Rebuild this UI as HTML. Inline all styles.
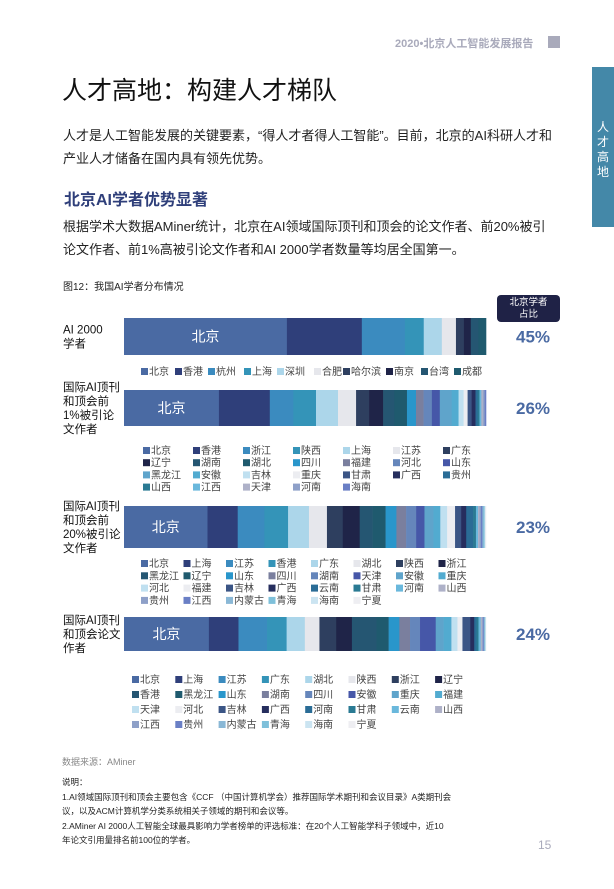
<!DOCTYPE html>
<html><head><meta charset="utf-8">
<style>
body{margin:0;width:614px;height:889px;position:relative;background:#fff;font-family:"Liberation Sans","Noto Sans CJK SC",sans-serif;overflow:hidden;color:#222}
.a{position:absolute;white-space:nowrap}
</style></head><body>
<div class="a" style="left:395px;top:35px;font-size:11px;font-weight:bold;color:#a9aabb">2020•北京人工智能发展报告</div>
<div class="a" style="left:548px;top:36px;width:12px;height:12px;background:#a9aabb"></div>
<div class="a" style="left:592px;top:67px;width:22px;height:160px;background:#4488a8"></div>
<div class="a" style="left:597px;top:120px;width:14px;font-size:12px;color:#fff;white-space:normal;line-height:15px">人才高地</div>
<div class="a" style="left:62px;top:71px;font-size:25px;color:#111">人才高地：构建人才梯队</div>
<div class="a" style="left:63px;top:124px;font-size:13px;line-height:23px;white-space:normal;width:495px">人才是人工智能发展的关键要素，“得人才者得人工智能”。目前，北京的AI科研人才和产业人才储备在国内具有领先优势。</div>
<div class="a" style="left:64px;top:186px;font-size:16px;font-weight:bold;color:#2f3f7a">北京AI学者优势显著</div>
<div class="a" style="left:63px;top:215px;font-size:13px;line-height:23px;white-space:normal;width:495px">根据学术大数据AMiner统计，北京在AI领域国际顶刊和顶会的论文作者、前20%被引论文作者、前1%高被引论文作者和AI 2000学者数量等均居全国第一。</div>
<div class="a" style="left:63px;top:278px;font-size:10px">图12：我国AI学者分布情况</div>
<div class="a" style="left:497px;top:295px;width:63px;height:27px;background:#1f2246;border-radius:4px;color:#fff;font-size:9.5px;line-height:12px;text-align:center;padding-top:2px;box-sizing:border-box">北京学者<br>占比</div>
<svg class="a" style="left:0;top:0" width="614" height="889" id="chart"></svg>
<div class="a" style="left:62px;top:755px;font-size:9px;color:#888">数据来源：AMiner</div>
<div class="a" style="left:62px;top:775px;font-size:8.5px;line-height:14.5px;white-space:normal;width:390px;color:#222">说明：<br>1.AI领域国际顶刊和顶会主要包含《CCF （中国计算机学会）推荐国际学术期刊和会议目录》A类期刊会议，以及ACM计算机学分类系统相关子领域的期刊和会议等。<br>2.AMiner AI 2000人工智能全球最具影响力学者榜单的评选标准：在20个人工智能学科子领域中，近10年论文引用量排名前100位的学者。</div>
<div class="a" style="left:538px;top:838px;font-size:12px;color:#a9aabb">15</div>
<script>
const palette=["#4a6aa3","#2f3f7a","#3b8bbf","#3494b8","#acd6ea","#e6e7ec","#2e3f5f","#1f2448","#255672","#1f5a6e","#2996cb","#7a7f9e","#6586bb","#4657a8","#5fa4cb","#52abd0","#c0e0f0","#ecedf1","#3b5585","#262e5e","#2a6c96","#2a7a93","#6ab8dc","#aeb1c8","#8ea0c8","#6a7fc5","#8ab8d6","#7ec0da","#cbe4f1","#eeeef2"];
const rowLabels=[["AI 2000","学者"],["国际AI顶刊","和顶会前","1%被引论","文作者"],["国际AI顶刊","和顶会前","20%被引论","文作者"],["国际AI顶刊","和顶会论文","作者"]];
const shareLabels=["45%","26%","23%","24%"];
const cats1=["北京","香港","杭州","上海","深圳","合肥","哈尔滨","南京","台湾","成都"];
const vals1=[45,20.7,11.9,5.2,5,3.9,2.2,1.9,2.1,2.1];
const cats2=["北京","香港","浙江","陕西","上海","江苏","广东","辽宁","湖南","湖北","四川","福建","河北","山东","黑龙江","安徽","吉林","重庆","甘肃","广西","贵州","山西","江西","天津","河南","海南"];
const vals2=[26.3,14.1,6.5,6.3,6.1,5,3.6,3.9,3.1,3.5,2.5,2.1,2.3,2.2,3.3,1.9,1.4,1.1,1.1,1.1,0.6,0.5,0.5,0.5,0.4,0.4];
const cats3=["北京","上海","江苏","香港","广东","湖北","陕西","浙江","黑龙江","辽宁","山东","四川","湖南","天津","安徽","重庆","河北","福建","吉林","广西","云南","甘肃","河南","山西","贵州","江西","内蒙古","青海","海南","宁夏"];
const vals3=[23.2,8.4,7.4,6.6,5.8,5,4.4,4.7,3.6,3.6,3,2.7,2.8,2.3,2.5,1.9,1.9,2.2,1.7,1.4,1.9,0.8,0.6,0.4,0.4,0.4,0.3,0.3,0.2,0.2];
const cats4=["北京","上海","江苏","广东","湖北","陕西","浙江","辽宁","香港","黑龙江","山东","湖南","四川","安徽","重庆","福建","天津","河北","吉林","广西","河南","甘肃","云南","山西","江西","贵州","内蒙古","青海","海南","宁夏"];
const vals4=[23.8,8.3,8,5.5,5.1,4.1,4.7,4.4,6.9,3.4,3,3,2.8,4.4,2.2,2.2,1.7,1.4,2.2,1.1,0.6,0.6,0.6,0.4,0.3,0.2,0.2,0.2,0.1,0.1];
const series=[{c:cats1,v:vals1},{c:cats2,v:vals2},{c:cats3,v:vals3},{c:cats4,v:vals4}];
const NS="http://www.w3.org/2000/svg",svg=document.getElementById("chart");
const X0=124,W=362;
function xScale(f){return X0+f*W;}
const bars=[{y:318,h:37,ly:318,legend:{y:375,x:141,cols:10,dx:[0,34,67,103,136,173,202,245,280,313],dy:0}},
{y:390,h:36,ly:382,legend:{y:454,x:143,cols:7,step:50,dy:12.2}},
{y:506,h:42,ly:506,legend:{y:567,x:141,cols:8,step:42.5,dy:12.3}},
{y:617,h:34,ly:617,legend:{y:683,x:132,cols:8,step:43.3,dy:15}}];
function mk(t,a,txt){const e=document.createElementNS(NS,t);for(const k in a)e.setAttribute(k,a[k]);if(txt!=null)e.textContent=txt;svg.appendChild(e);return e;}
series.forEach((s,i)=>{
 const b=bars[i],tot=s.v.reduce((p,q)=>p+q,0);let acc=0;
 s.v.forEach((v,j)=>{
  const x1=xScale(acc/tot);acc+=v;const x2=xScale(acc/tot);
  const r=mk("rect",{x:x1,y:b.y,width:Math.max(0,x2-x1)+0.3,height:b.h,fill:palette[j%palette.length]});
  
  
 });
 const t=mk("text",{x:xScale(s.v[0]/tot/2),y:b.y+b.h/2+5,"font-size":14,fill:"#fff","text-anchor":"middle"},s.c[0]);
 
 
 const lines=rowLabels[i];const ly0=b.y+b.h/2-(lines.length-1)*7+4;
 lines.forEach((l,k)=>{const tl=mk("text",{x:63,y:ly0+k*14,"font-size":11.5,fill:"#111"},l);
  
  });
 const p=mk("text",{x:533,y:b.y+b.h/2+6,"font-size":17,"font-weight":"bold",fill:"#4a6aa3","text-anchor":"middle"},shareLabels[i]);
 
 
 const L=b.legend;
 s.c.forEach((c,j)=>{
  const col=j%L.cols,row=Math.floor(j/L.cols);
  const x=L.dx?L.x+L.dx[col]:L.x+col*L.step,y=L.y+row*L.dy;
  const sq=mk("rect",{x:x,y:y-7,width:7,height:7,fill:palette[j%palette.length]});
  
  
  const lt=mk("text",{x:x+8,y:y,"font-size":10,fill:"#444"},c);
  
  
 });
});
</script>
</body></html>
